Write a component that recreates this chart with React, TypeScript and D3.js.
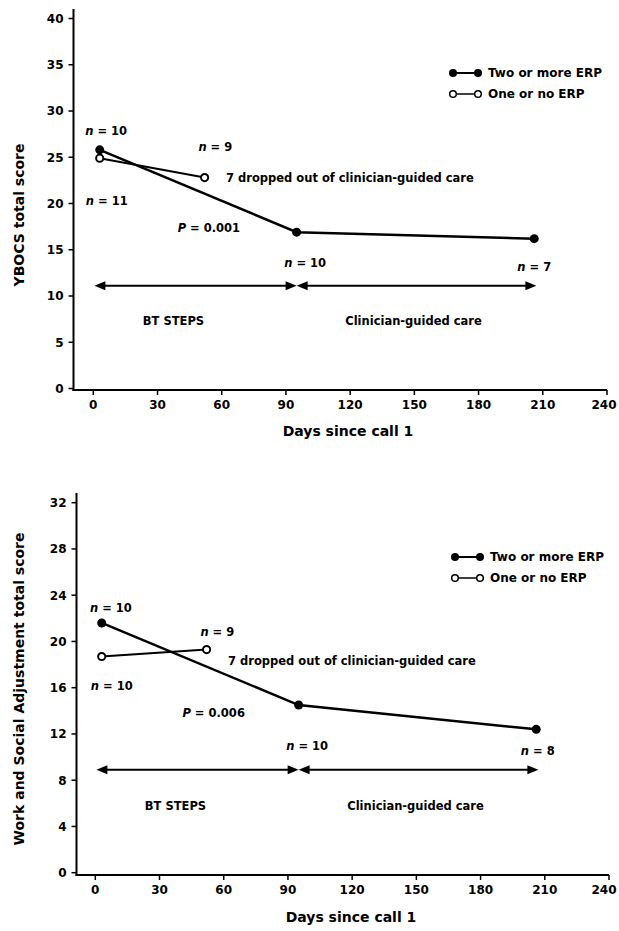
import React from 'react';
import * as d3 from 'd3';

// ---------- data ----------
const xTicks = [0, 30, 60, 90, 120, 150, 180, 210, 240];
const ybocsTicks = [0, 5, 10, 15, 20, 25, 30, 35, 40];
const wsasTicks = [0, 4, 8, 12, 16, 20, 24, 28, 32];

const daysTwoPlus = [3, 95, 206];
const daysOneOrNo = [3, 52];
const ybocsTwoPlus = [25.8, 16.9, 16.2];
const ybocsOneOrNo = [24.9, 22.8];
const wsasTwoPlus = [21.6, 14.5, 12.4];
const wsasOneOrNo = [18.7, 19.3];

const phaseBounds = [0.5, 95, 207];
const phaseLabels = ['BT STEPS', 'Clinician-guided care'];
const legendLabels = ['Two or more ERP', 'One or no ERP'];
const dropoutText = '7 dropped out of clinician-guided care';
const ybocsNs = ['10', '11', '9', '10', '7'];
const wsasNs = ['10', '10', '9', '10', '8'];
const pValues = ['0.001', '0.006'];

const FONT = "'DejaVu Sans', 'Liberation Sans', Arial, sans-serif";

type Ann = { day: number; value: number; anchor: 'start' | 'middle' | 'end'; n?: string; p?: string; text?: string };

type PanelCfg = {
  xRange: [number, number];
  yDomain: [number, number];
  yRange: [number, number];
  yTicks: number[];
  axisX: number;
  axisY: number;
  axisTop: number;
  yTitle: string;
  yTitleX: number;
  yTitleY: number;
  xTitleY: number;
  xTitleX: number;
  two: number[];
  one: number[];
  arrowValue: number;
  phaseValue: number;
  legendX: number;
  legendY: number;
  anns: Ann[];
};

function Panel({ c }: { c: PanelCfg }) {
  const x = d3.scaleLinear().domain([0, 240]).range(c.xRange);
  const y = d3.scaleLinear().domain(c.yDomain).range(c.yRange);
  const line = d3
    .line<[number, number]>()
    .x((d) => x(d[0]))
    .y((d) => y(d[1]));
  const twoPts: [number, number][] = daysTwoPlus.map((d, i) => [d, c.two[i]]);
  const onePts: [number, number][] = daysOneOrNo.map((d, i) => [d, c.one[i]]);

  const ay = y(c.arrowValue);
  const L = 11;
  const H = 4.5;
  const segs = [
    [x(phaseBounds[0]), x(phaseBounds[1])],
    [x(phaseBounds[1]), x(phaseBounds[2])],
  ];

  return (
    <g fontFamily={FONT} fontWeight="bold" fill="#000">
      {/* axes */}
      <line x1={c.axisX} x2={c.axisX} y1={c.axisTop} y2={c.axisY + 1} stroke="#000" strokeWidth={2} />
      <line x1={c.axisX - 1} x2={c.xRange[1]} y1={c.axisY} y2={c.axisY} stroke="#000" strokeWidth={2} />
      {c.yTicks.map((t) => (
        <g key={'yt' + t}>
          <line x1={c.axisX - 5} x2={c.axisX} y1={y(t)} y2={y(t)} stroke="#000" strokeWidth={1.5} />
          <text x={c.axisX - 10} y={y(t)} dy="0.36em" textAnchor="end" fontSize={12}>
            {t}
          </text>
        </g>
      ))}
      {xTicks.map((t) => (
        <g key={'xt' + t}>
          <line x1={x(t)} x2={x(t)} y1={c.axisY} y2={c.axisY + 5} stroke="#000" strokeWidth={1.5} />
          <text x={Math.min(x(t), 604)} y={c.axisY + 15} dy="0.36em" textAnchor="middle" fontSize={12}>
            {t}
          </text>
        </g>
      ))}
      <text
        transform={`translate(${c.yTitleX},${c.yTitleY}) rotate(-90)`}
        textAnchor="middle"
        dy="0.36em"
        fontSize={14}
      >
        {c.yTitle}
      </text>
      <text x={c.xTitleX} y={c.xTitleY} dy="0.36em" textAnchor="middle" fontSize={14}>
        Days since call 1
      </text>

      {/* phase arrows */}
      {segs.map(([x1, x2], i) => (
        <g key={'seg' + i}>
          <line x1={x1 + 4} x2={x2 - 4} y1={ay} y2={ay} stroke="#000" strokeWidth={2} />
          <path d={`M${x1},${ay}L${x1 + L},${ay - H}L${x1 + L},${ay + H}Z`} />
          <path d={`M${x2},${ay}L${x2 - L},${ay - H}L${x2 - L},${ay + H}Z`} />
          <text
            x={(x(phaseBounds[i]) + x(phaseBounds[i + 1])) / 2 + (i === 0 ? -22 : -3)}
            y={y(c.phaseValue)}
            dy="0.36em"
            textAnchor="middle"
            fontSize={11.5}
          >
            {phaseLabels[i]}
          </text>
        </g>
      ))}

      {/* series */}
      <path d={line(onePts) || ''} fill="none" stroke="#000" strokeWidth={2} />
      <path d={line(twoPts) || ''} fill="none" stroke="#000" strokeWidth={2.5} />
      {twoPts.map((p, i) => (
        <circle key={'tp' + i} cx={x(p[0])} cy={y(p[1])} r={4.5} fill="#000" />
      ))}
      {onePts.map((p, i) => (
        <circle key={'op' + i} cx={x(p[0])} cy={y(p[1])} r={3.6} fill="#fff" stroke="#000" strokeWidth={2} />
      ))}

      {/* annotations */}
      {c.anns.map((a, i) => (
        <text
          key={'an' + i}
          x={x(a.day)}
          y={y(a.value)}
          dy="0.36em"
          textAnchor={a.anchor}
          fontSize={11.5}
        >
          {a.n !== undefined ? (
            <>
              <tspan fontStyle="italic">n</tspan>
              {' = ' + a.n}
            </>
          ) : a.p !== undefined ? (
            <>
              <tspan fontStyle="italic">P</tspan>
              {' = ' + a.p}
            </>
          ) : (
            a.text
          )}
        </text>
      ))}

      {/* legend */}
      <g transform={`translate(${c.legendX},${c.legendY})`}>
        <line x1={0} x2={25} y1={0} y2={0} stroke="#000" strokeWidth={2} />
        <circle cx={0} cy={0} r={4} fill="#000" />
        <circle cx={25} cy={0} r={4} fill="#000" />
        <text x={35} y={0} dy="0.36em" fontSize={12}>
          {legendLabels[0]}
        </text>
        <line x1={3} x2={22} y1={21} y2={21} stroke="#000" strokeWidth={1.5} />
        <circle cx={0} cy={21} r={3.3} fill="#fff" stroke="#000" strokeWidth={1.5} />
        <circle cx={25} cy={21} r={3.3} fill="#fff" stroke="#000" strokeWidth={1.5} />
        <text x={35} y={21} dy="0.36em" fontSize={12}>
          {legendLabels[1]}
        </text>
      </g>
    </g>
  );
}

const topCfg: PanelCfg = {
  xRange: [93.3, 607],
  yDomain: [0, 40],
  yRange: [388.5, 18.5],
  yTicks: ybocsTicks,
  axisX: 73.5,
  axisY: 390,
  axisTop: 9,
  yTitle: 'YBOCS total score',
  yTitleX: 19,
  yTitleY: 215,
  xTitleX: 348,
  xTitleY: 431,
  two: ybocsTwoPlus,
  one: ybocsOneOrNo,
  arrowValue: 11.1,
  phaseValue: 7.3,
  legendX: 453,
  legendY: 73,
  anns: [
    { day: 6, value: 27.8, anchor: 'middle', n: ybocsNs[0] },
    { day: 6.3, value: 20.3, anchor: 'middle', n: ybocsNs[1] },
    { day: 57, value: 26.1, anchor: 'middle', n: ybocsNs[2] },
    { day: 99, value: 13.6, anchor: 'middle', n: ybocsNs[3] },
    { day: 206, value: 13.1, anchor: 'middle', n: ybocsNs[4] },
    { day: 54, value: 17.4, anchor: 'middle', p: pValues[0] },
    { day: 62, value: 22.8, anchor: 'start', text: dropoutText },
  ],
};

const bottomCfg: PanelCfg = {
  xRange: [95.3, 609],
  yDomain: [0, 32],
  yRange: [872.7, 502.7],
  yTicks: wsasTicks,
  axisX: 76.5,
  axisY: 875,
  axisTop: 493,
  yTitle: 'Work and Social Adjustment total score',
  yTitleX: 19,
  yTitleY: 689,
  xTitleX: 351,
  xTitleY: 917,
  two: wsasTwoPlus,
  one: wsasOneOrNo,
  arrowValue: 8.9,
  phaseValue: 5.8,
  legendX: 455,
  legendY: 557,
  anns: [
    { day: 7.3, value: 22.9, anchor: 'middle', n: wsasNs[0] },
    { day: 7.7, value: 16.2, anchor: 'middle', n: wsasNs[1] },
    { day: 57, value: 20.8, anchor: 'middle', n: wsasNs[2] },
    { day: 99, value: 11.0, anchor: 'middle', n: wsasNs[3] },
    { day: 206.7, value: 10.5, anchor: 'middle', n: wsasNs[4] },
    { day: 55.3, value: 13.8, anchor: 'middle', p: pValues[1] },
    { day: 62, value: 18.3, anchor: 'start', text: dropoutText },
  ],
};

export default function App() {
  return (
    <div style={{ position: 'absolute', left: 0, top: 0, width: 619, height: 931, background: '#fff' }}>
      <svg width={619} height={931} style={{ display: 'block' }}>
        <rect width={619} height={931} fill="#fff" />
        <Panel c={topCfg} />
        <Panel c={bottomCfg} />
      </svg>
    </div>
  );
}
